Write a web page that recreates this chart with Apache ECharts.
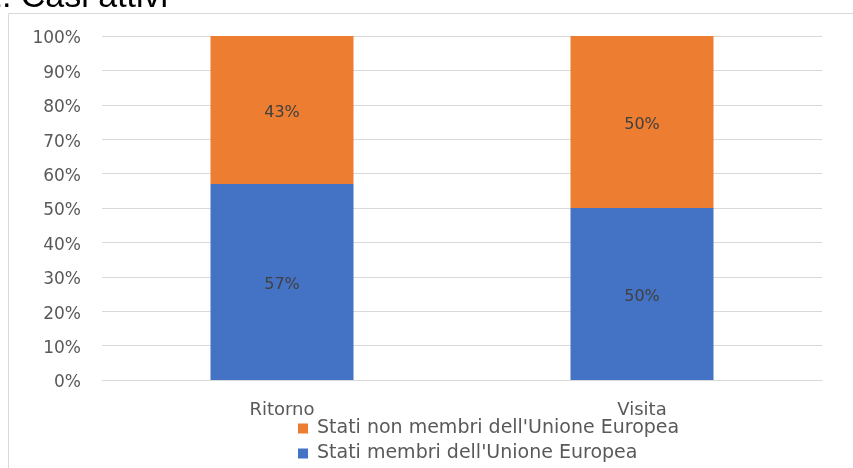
<!DOCTYPE html>
<html><head><meta charset="utf-8">
<script src="https://cdn.jsdelivr.net/npm/echarts@6/dist/echarts.min.js"></script>
<style>html,body{margin:0;padding:0;background:#fff}#c{width:853px;height:468px}</style>
</head><body><div id="c"></div>
<script>
const categories = ['Ritorno', 'Visita'];
const nonMembri = [43, 50];
const membri = [57, 50];
const seriesNames = ["Stati membri dell'Unione Europea", "Stati non membri dell'Unione Europea"];
const titleText = '1. Casi attivi';

const chart = echarts.init(document.getElementById('c'), null, {renderer: 'canvas'});
const tfont = 'Liberation Sans, Arial, sans-serif';
const font = 'DejaVu Sans, sans-serif';
chart.setOption({
  animation: false,
  graphic: [
    {type: 'line', shape: {x1: 8.5, y1: 13.5, x2: 853, y2: 13.5}, style: {stroke: '#d9d9d9', lineWidth: 1}},
    {type: 'line', shape: {x1: 8.5, y1: 13.5, x2: 8.5, y2: 468}, style: {stroke: '#d9d9d9', lineWidth: 1}},
    {type: 'text', left: -17, top: -19, style: {text: titleText, font: '34px ' + tfont, fill: '#000'}}
  ],
  grid: {left: 102, right: 31, top: 36, bottom: 88},
  legend: {
    orient: 'vertical', left: 298, top: 419, itemGap: 6, itemWidth: 10, itemHeight: 10,
    padding: 0, height: 60,
    icon: 'rect',
    data: [seriesNames[1], seriesNames[0]],
    textStyle: {fontFamily: font, fontSize: 19, color: '#595959', padding: [0, 0, 0, 4]}
  },
  xAxis: {
    type: 'category', data: categories,
    axisLine: {lineStyle: {color: '#d9d9d9'}}, axisTick: {show: false},
    axisLabel: {fontFamily: font, fontSize: 18, color: '#595959', margin: 21}
  },
  yAxis: {
    type: 'value', min: 0, max: 100, interval: 10,
    axisLabel: {formatter: '{value}%', fontFamily: font, fontSize: 17, color: '#595959', margin: 21,
      verticalAlign: 'top', lineHeight: 6},
    splitLine: {lineStyle: {color: '#d9d9d9'}},
    axisLine: {show: false}, axisTick: {show: false}
  },
  series: [
    {name: seriesNames[0], type: 'bar', stack: 't', data: membri, barWidth: 143,
     itemStyle: {color: '#4472C4'},
     label: {show: true, position: 'inside', offset: [0, 3], formatter: '{c}%', fontFamily: font, fontSize: 16, color: '#404040'}},
    {name: seriesNames[1], type: 'bar', stack: 't', data: nonMembri, barWidth: 143,
     itemStyle: {color: '#ED7D31'},
     label: {show: true, position: 'inside', offset: [0, 3], formatter: '{c}%', fontFamily: font, fontSize: 16, color: '#404040'}}
  ]
});
</script></body></html>
